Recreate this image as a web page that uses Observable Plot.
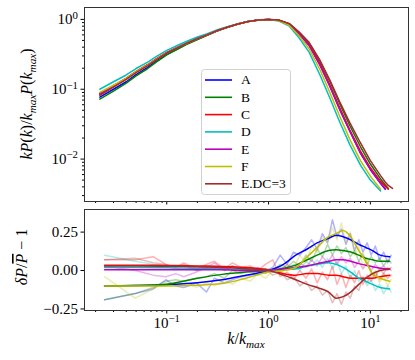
<!DOCTYPE html>
<html><head><meta charset="utf-8">
<script src="https://cdn.jsdelivr.net/npm/d3@7"></script>
<script src="https://cdn.jsdelivr.net/npm/@observablehq/plot@0.6"></script>
<style>
body{margin:0;background:#fff;}
#wrap{position:relative;width:415px;height:360px;font-family:"Liberation Serif",serif;overflow:hidden;}
#top,#bot,#leg{position:absolute;left:0;}
#top{top:0;}
#bot{top:205px;}
#leg{left:201px;top:69px;}
svg{overflow:visible;}
</style></head><body>
<div id="wrap"><div id="top"></div><div id="bot"></div><div id="leg"></div></div>
<script>
const names = ["A","B","C","D","E","F","E.DC=3"];
const colors = ["#0000ff","#008000","#ff0000","#00bfbf","#bf00bf","#bfbf00","#a52a2a"];

// top panel: k P(k) / (k_max P(k_max))
const kTop = [0.022,0.03,0.04,0.05,0.065,0.08,0.1,0.13,0.16,0.2,0.25,0.32,0.4,0.5,0.63,0.8,1.0,
              1.25,1.6,2.0,2.5,3.2,4.0,5.0,6.3,8.0,10,12.6,14,15,16.5];
const topA = [0.077,0.1,0.128,0.162,0.205,0.255,0.315,0.385,0.45,0.52,0.595,0.695,0.775,0.86,0.93,0.98,1.0,
              0.97,0.85,0.62,0.43,0.225,0.112,0.052,0.025,0.0122,0.0071,0.0045,0.0037,null,null];
const topB = [0.072,0.094,0.122,0.155,0.198,0.248,0.31,0.38,0.445,0.515,0.59,0.69,0.775,0.855,0.93,0.98,1.0,
              0.98,0.87,0.65,0.46,0.25,0.13,0.062,0.030,0.015,0.0085,0.0052,0.0043,0.0038,null];
const topC = [0.087,0.113,0.144,0.18,0.226,0.276,0.337,0.405,0.465,0.535,0.605,0.70,0.78,0.86,0.93,0.98,1.0,
              0.97,0.85,0.62,0.43,0.23,0.115,0.054,0.026,0.013,0.0075,0.0048,0.0041,0.0037,null];
const topD = [0.10,0.128,0.16,0.198,0.245,0.297,0.36,0.43,0.49,0.56,0.625,0.72,0.79,0.87,0.935,0.985,1.0,
              0.95,0.80,0.54,0.34,0.16,0.075,0.034,0.016,0.0082,0.005,0.0035,null,null,null];
const topE = [0.085,0.11,0.141,0.176,0.222,0.272,0.333,0.402,0.462,0.532,0.602,0.70,0.78,0.86,0.93,0.98,1.0,
              0.97,0.85,0.62,0.42,0.22,0.11,0.051,0.025,0.0122,0.0071,0.0045,0.0038,null,null];
const topF = [0.09,0.114,0.143,0.178,0.223,0.272,0.332,0.40,0.46,0.53,0.60,0.70,0.78,0.86,0.93,0.98,1.0,
              0.96,0.82,0.58,0.38,0.19,0.09,0.041,0.019,0.0095,0.0057,0.0037,null,null,null];
const topG = [0.082,0.107,0.138,0.173,0.218,0.268,0.33,0.398,0.46,0.53,0.60,0.70,0.78,0.86,0.93,0.98,1.0,
              0.98,0.87,0.66,0.47,0.26,0.135,0.066,0.033,0.017,0.0095,0.0058,0.0047,0.0042,0.0038];
const topSeries = [topA,topB,topC,topD,topE,topF,topG];

// bottom panel: residuals, raw (faint) and smoothed
const kRes = [0.0245,0.049,0.0735,0.098,0.1225,0.147,0.196,0.245,0.294,0.368,
              0.441,0.539,0.662,0.784,0.931,1.10,1.30,1.52,1.76,2.03,
              2.33,2.65,3.0,3.38,3.8,4.24,4.7,5.2,5.75,6.35,
              7.0,7.7,8.45,9.3,10.2,11.2,12.3,13.5,14.8,16.0];
const rawA = [-0.19,-0.15,-0.12,-0.06,-0.10,-0.11,-0.08,-0.14,-0.05,-0.08,
              -0.06,-0.04,-0.03,-0.02,0.00,0.02,0.10,0.04,0.12,0.10,
              0.15,0.20,0.14,0.24,0.18,0.33,0.22,0.27,0.17,0.24,
              0.13,0.20,0.12,0.18,0.10,0.16,0.07,0.12,0.05,0.10];
const rawB = [-0.19,-0.15,-0.11,-0.07,-0.06,-0.07,-0.05,-0.04,-0.02,-0.05,
              0.00,-0.02,0.00,-0.03,0.01,-0.01,0.04,0.02,0.06,0.03,
              0.10,0.06,0.14,0.09,0.17,0.10,0.16,0.11,0.15,0.09,
              0.13,0.06,0.11,0.04,0.09,0.05,0.08,0.03,0.07,0.05];
const rawC = [0.07,0.07,0.09,0.04,0.02,0.05,0.01,0.04,0.06,0.01,
              0.05,0.02,0.03,0.00,0.04,0.07,-0.04,-0.01,-0.06,0.00,
              -0.05,0.01,-0.08,-0.01,-0.06,0.03,-0.09,-0.02,-0.11,-0.03,
              -0.08,0.00,-0.09,-0.03,-0.07,-0.01,-0.06,-0.02,-0.05,-0.03];
const rawD = [0.10,0.06,0.04,0.03,0.01,0.03,0.00,0.02,0.03,0.00,
              0.02,-0.01,0.02,0.00,0.01,-0.01,0.02,0.01,0.04,0.00,
              0.06,0.03,0.07,0.02,0.08,0.01,0.06,-0.02,0.03,-0.05,
              0.00,-0.07,-0.04,-0.10,-0.06,-0.13,-0.09,-0.15,-0.10,-0.14];
const rawE = [0.03,0.00,-0.03,-0.04,-0.02,-0.04,-0.01,0.02,0.05,0.00,
              0.03,0.01,-0.01,0.02,-0.02,0.01,0.00,0.04,0.01,0.05,
              0.02,0.07,0.03,0.09,0.05,0.10,0.04,0.09,0.05,0.08,
              0.02,0.06,0.01,0.05,0.00,0.04,0.01,0.03,0.00,0.02];
const rawF = [-0.04,-0.18,-0.12,-0.08,-0.10,-0.07,-0.11,-0.08,-0.10,-0.06,
              -0.09,-0.05,-0.07,-0.02,-0.05,0.00,-0.02,0.04,0.01,0.10,
              0.05,0.16,0.12,0.22,0.18,0.28,0.20,0.31,0.18,0.25,
              0.10,0.16,0.02,0.08,-0.04,0.00,-0.08,-0.03,-0.10,-0.06];
const rawG = [0.07,0.08,0.05,0.04,0.02,0.04,0.00,0.03,0.02,0.01,
              0.03,0.00,0.02,-0.01,0.01,-0.03,-0.01,-0.06,-0.04,-0.10,
              -0.07,-0.13,-0.10,-0.16,-0.13,-0.21,-0.15,-0.22,-0.14,-0.18,
              -0.10,-0.13,-0.05,-0.08,-0.02,-0.04,0.01,-0.02,0.02,0.00];
const rawSeries = [rawA,rawB,rawC,rawD,rawE,rawF,rawG];

const kSm = [0.0245,0.05,0.1,0.2,0.35,0.6,1.0,1.4,1.85,2.4,3.0,3.9,4.6,5.4,6.4,7.7,9.0,10.5,12.5,15.5];
const smA = [-0.10,-0.098,-0.093,-0.08,-0.06,-0.03,0.0,0.04,0.10,0.14,0.18,0.21,0.23,0.22,0.20,0.17,0.15,0.13,0.10,0.09];
const smB = [-0.10,-0.098,-0.09,-0.05,-0.025,-0.01,0.0,0.015,0.035,0.07,0.10,0.13,0.135,0.13,0.12,0.10,0.08,0.07,0.06,0.06];
const smC = [0.035,0.035,0.033,0.03,0.027,0.02,0.005,-0.02,-0.03,-0.02,-0.02,-0.03,-0.03,-0.04,-0.05,-0.05,-0.05,-0.05,-0.04,-0.03];
const smD = [0.02,0.02,0.018,0.015,0.01,0.005,0.0,0.005,0.01,0.03,0.04,0.05,0.04,0.02,-0.01,-0.05,-0.07,-0.09,-0.11,-0.12];
const smE = [0.005,0.005,0.005,0.005,0.005,0.0,0.0,0.01,0.02,0.03,0.045,0.06,0.07,0.07,0.06,0.045,0.035,0.025,0.015,0.01];
const smF = [-0.10,-0.10,-0.10,-0.095,-0.085,-0.05,-0.01,0.0,0.02,0.09,0.15,0.22,0.24,0.26,0.22,0.13,0.06,-0.02,-0.05,-0.07];
const smG = [0.03,0.03,0.028,0.025,0.02,0.012,0.0,-0.03,-0.06,-0.09,-0.11,-0.14,-0.18,-0.17,-0.14,-0.09,-0.05,-0.02,0.0,0.01];
const smSeries = [smA,smB,smC,smD,smE,smF,smG];

const xMajor = [0.1,1,10];
const xMinor = [0.02,0.03,0.04,0.05,0.06,0.07,0.08,0.09,0.2,0.3,0.4,0.5,0.6,0.7,0.8,0.9,2,3,4,5,6,7,8,9,20];
const yMajorTop = [0.01,0.1,1];
const yMinorTop = [0.003,0.004,0.005,0.006,0.007,0.008,0.009,0.02,0.03,0.04,0.05,0.06,0.07,0.08,0.09,0.2,0.3,0.4,0.5,0.6,0.7,0.8,0.9];
const yTicksBot = [-0.25,0,0.25];

// tables
const topRows = [];
topSeries.forEach((arr,si)=>arr.forEach((v,i)=>{ if(v!=null) topRows.push({k:kTop[i], v, s:names[si]}); }));
const rawRows = [];
rawSeries.forEach((arr,si)=>arr.forEach((v,i)=>rawRows.push({k:kRes[i], v, s:names[si]})));
const smRows = [];
smSeries.forEach((arr,si)=>arr.forEach((v,i)=>smRows.push({k:kSm[i], v, s:names[si]})));

const pow = d => "10^" + String(Math.round(Math.log10(d))).replace("-","\u2212");
const font = {fontFamily:"'Liberation Serif', serif", fontSize:"15px", color:"#000", background:"transparent"};
const colorScale = {domain:names, range:colors};
const xDom = [0.01556, 23.7];

const topPlot = Plot.plot({
  width:415, height:205, marginLeft:84, marginRight:7, marginTop:7, marginBottom:4,
  style:font,
  x:{type:"log", domain:xDom, axis:null},
  y:{type:"log", domain:[0.00247,1.48], axis:null},
  color:colorScale,
  marks:[
    Plot.line(topRows,{x:"k", y:"v", z:"s", stroke:"s", strokeWidth:1.5}),
    Plot.axisY({ticks:yMajorTop, tickSize:3.5, tickPadding:3, tickFormat:pow, fontSize:15, label:null}),
    Plot.axisY({ticks:yMinorTop, tickSize:2, text:null, label:null}),
    Plot.axisX({anchor:"bottom", ticks:xMajor, tickSize:3.5, text:null, label:null}),
    Plot.axisX({anchor:"bottom", ticks:xMinor, tickSize:2, text:null, label:null}),
    Plot.frame({stroke:"#333", strokeWidth:1})
  ]
});

const botPlot = Plot.plot({
  width:415, height:155, marginLeft:84, marginRight:7, marginTop:4, marginBottom:50,
  style:font,
  x:{type:"log", domain:xDom, axis:null},
  y:{domain:[-0.26,0.397], axis:null},
  color:colorScale,
  marks:[
    Plot.line(rawRows,{x:"k", y:"v", z:"s", stroke:"s", strokeWidth:1.5, strokeOpacity:0.3}),
    Plot.line(smRows,{x:"k", y:"v", z:"s", stroke:"s", strokeWidth:1.5, curve:"monotone-x"}),
    Plot.axisY({ticks:yTicksBot, tickSize:3.5, tickPadding:3, tickFormat:d3.format(".2f"), fontSize:15, label:null}),
    Plot.axisX({anchor:"bottom", ticks:xMajor, tickSize:3.5, tickPadding:3, tickFormat:pow, fontSize:15, label:null}),
    Plot.axisX({anchor:"bottom", ticks:xMinor, tickSize:2, text:null, label:null}),
    Plot.frame({stroke:"#333", strokeWidth:1})
  ]
});

function supify(svg){
  d3.select(svg).selectAll("text").each(function(){
    const m = /^10\^(.+)$/.exec(this.textContent);
    if(m){ const s = d3.select(this); s.text("10");
      s.append("tspan").attr("dy","-0.5em").attr("font-size","0.72em").text(m[1]); }
  });
}
supify(topPlot); supify(botPlot);

// math-like label builder: parts [text, italic?, sub?, overline?]
function mathLabel(sel, parts, size){
  const t = sel.append("text").attr("text-anchor","middle").attr("font-size",size)
    .attr("font-family","'Liberation Serif', serif").attr("fill","#000");
  let shift = 0;
  parts.forEach(([txt, it, sub, over])=>{
    const target = sub ? size*0.28 : 0;
    const ts = t.append("tspan").text(txt).attr("font-style", it ? "italic" : "normal");
    if(sub) ts.attr("font-size", size*0.7);
    if(over) ts.style("text-decoration","overline");
    if(target !== shift){ ts.attr("dy", target - shift); shift = target; }
  });
  return t;
}
mathLabel(d3.select(topPlot), [["k",1],["P",1],["(",0],["k",1],[")/",0],["k",1],["max",1,1],["P",1],["(",0],["k",1],["max",1,1],[")",0]], 16)
  .attr("transform","translate(32,104) rotate(-90)");
mathLabel(d3.select(botPlot), [["\u03b4",1],["P",1],["/",0],["P",1,0,1],[" \u2212 1",0]], 16)
  .attr("transform","translate(27,52) rotate(-90)");
mathLabel(d3.select(botPlot), [["k",1],["/",0],["k",1],["max",1,1]], 16)
  .attr("transform","translate(246,139)");

document.getElementById("top").appendChild(topPlot);
document.getElementById("bot").appendChild(botPlot);

// legend (SVG)
const lg = d3.select("#leg").append("svg").attr("width",90).attr("height",126)
  .style("font-family","'Liberation Serif', serif");
lg.append("rect").attr("x",0.5).attr("y",0.5).attr("width",89).attr("height",125).attr("rx",3)
  .attr("fill","#fff").attr("fill-opacity",0.85).attr("stroke","#d0d0d0");
names.forEach((n,i)=>{
  const cy = 11 + i*17.3;
  lg.append("line").attr("x1",4).attr("x2",31).attr("y1",cy).attr("y2",cy)
    .attr("stroke",colors[i]).attr("stroke-width",1.6);
  lg.append("text").attr("x",40).attr("y",cy).attr("dy","0.33em").attr("font-size",13.5).attr("fill","#000").text(n);
});
</script>
</body></html>
